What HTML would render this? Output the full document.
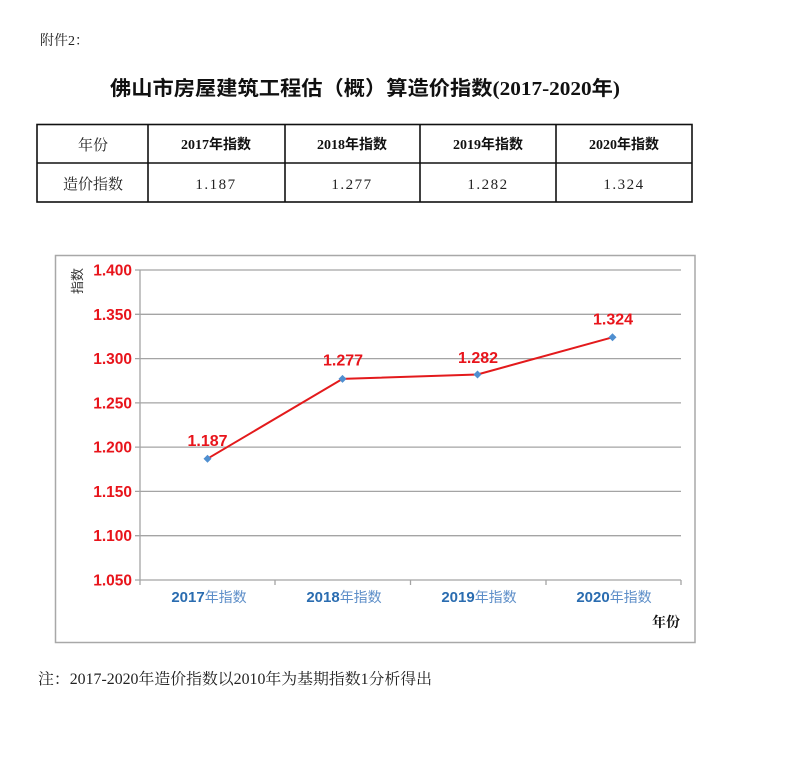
<!DOCTYPE html>
<html><head><meta charset="utf-8"><style>
html,body{margin:0;padding:0;background:#fff;}
svg{display:block;}
</style></head><body>
<svg width="800" height="764" viewBox="0 0 800 764" xmlns="http://www.w3.org/2000/svg">
<rect width="800" height="764" fill="#fff"/>
<text x="40" y="45" font-family="'Liberation Serif','Noto Serif CJK SC',serif" font-size="14" fill="#222">附件2<tspan font-family="'Noto Serif CJK SC',serif">：</tspan></text>
<text x="110" y="95" font-size="20" font-weight="bold" fill="#111" textLength="510" lengthAdjust="spacingAndGlyphs"><tspan font-family="'Noto Sans CJK SC',sans-serif">佛山市房屋建筑工程估（概）算造价指数</tspan><tspan font-family="'Liberation Serif',serif" font-weight="bold">(2017-2020</tspan><tspan font-family="'Noto Sans CJK SC',sans-serif">年</tspan><tspan font-family="'Liberation Serif',serif">)</tspan></text>

<!-- table -->
<g stroke="#111" stroke-width="1.6" fill="none">
<rect x="37" y="124.5" width="655" height="77.5"/>
<line x1="37" y1="163" x2="692" y2="163"/>
<line x1="148" y1="124.5" x2="148" y2="202"/>
<line x1="285" y1="124.5" x2="285" y2="202"/>
<line x1="420" y1="124.5" x2="420" y2="202"/>
<line x1="556" y1="124.5" x2="556" y2="202"/>
</g>
<g font-family="'Liberation Serif','Noto Serif CJK SC',serif" font-size="15" fill="#222" text-anchor="middle">
<text x="93" y="150">年份</text>
<text x="93" y="189">造价指数</text>
<text x="216" y="189" letter-spacing="1.5">1.187</text>
<text x="352" y="189" letter-spacing="1.5">1.277</text>
<text x="488" y="189" letter-spacing="1.5">1.282</text>
<text x="624" y="189" letter-spacing="1.5">1.324</text>
</g>
<g font-family="'Liberation Serif','Noto Sans CJK SC',sans-serif" font-size="14" font-weight="bold" fill="#111" text-anchor="middle">
<text x="216" y="149">2017年指数</text>
<text x="352" y="149">2018年指数</text>
<text x="488" y="149">2019年指数</text>
<text x="624" y="149">2020年指数</text>
</g>

<!-- chart box -->
<rect x="55.5" y="255.5" width="639.5" height="387" fill="#fff" stroke="#a8a8a8" stroke-width="1.5"/>

<!-- gridlines -->
<g stroke="#a4a4a4" stroke-width="1.3">
<line x1="135" y1="270" x2="681" y2="270"/>
<line x1="135" y1="314.3" x2="681" y2="314.3"/>
<line x1="135" y1="358.6" x2="681" y2="358.6"/>
<line x1="135" y1="402.9" x2="681" y2="402.9"/>
<line x1="135" y1="447.1" x2="681" y2="447.1"/>
<line x1="135" y1="491.4" x2="681" y2="491.4"/>
<line x1="135" y1="535.7" x2="681" y2="535.7"/>
<line x1="135" y1="580" x2="681" y2="580"/>
<line x1="140" y1="270" x2="140" y2="585"/>
<line x1="275" y1="580" x2="275" y2="585"/>
<line x1="410.5" y1="580" x2="410.5" y2="585"/>
<line x1="546" y1="580" x2="546" y2="585"/>
<line x1="681" y1="580" x2="681" y2="585"/>
</g>

<!-- y labels -->
<g font-family="'Liberation Sans',sans-serif" font-size="15.5" font-weight="bold" fill="#e8141b" text-anchor="end">
<text x="132" y="275.5">1.400</text>
<text x="132" y="319.8">1.350</text>
<text x="132" y="364.1">1.300</text>
<text x="132" y="408.4">1.250</text>
<text x="132" y="452.6">1.200</text>
<text x="132" y="496.9">1.150</text>
<text x="132" y="541.2">1.100</text>
<text x="132" y="585.5">1.050</text>
</g>
<text transform="translate(82,281) rotate(-90)" font-family="'Noto Sans CJK SC',sans-serif" font-size="13" fill="#333" text-anchor="middle">指数</text>

<!-- series -->
<polyline points="207.5,458.7 342.5,378.9 477.5,374.5 612.5,337.3" fill="none" stroke="#e31a1c" stroke-width="2"/>
<g fill="#4f8fd0">
<path d="M207.5,454.7 L211.5,458.7 L207.5,462.7 L203.5,458.7Z"/>
<path d="M342.5,374.9 L346.5,378.9 L342.5,382.9 L338.5,378.9Z"/>
<path d="M477.5,370.5 L481.5,374.5 L477.5,378.5 L473.5,374.5Z"/>
<path d="M612.5,333.3 L616.5,337.3 L612.5,341.3 L608.5,337.3Z"/>
</g>
<g font-family="'Liberation Sans',sans-serif" font-size="16" font-weight="bold" fill="#e8141b" text-anchor="middle">
<text x="207.5" y="446">1.187</text>
<text x="343" y="365.5">1.277</text>
<text x="478" y="363">1.282</text>
<text x="613" y="324.5">1.324</text>
</g>

<!-- category labels -->
<g font-size="14" text-anchor="middle">
<text x="209" y="602"><tspan font-family="'Liberation Sans',sans-serif" font-weight="bold" font-size="15" fill="#2a6cb0">2017</tspan><tspan font-family="'Noto Sans CJK SC',sans-serif" fill="#5d8ec8">年指数</tspan></text>
<text x="344" y="602"><tspan font-family="'Liberation Sans',sans-serif" font-weight="bold" font-size="15" fill="#2a6cb0">2018</tspan><tspan font-family="'Noto Sans CJK SC',sans-serif" fill="#5d8ec8">年指数</tspan></text>
<text x="479" y="602"><tspan font-family="'Liberation Sans',sans-serif" font-weight="bold" font-size="15" fill="#2a6cb0">2019</tspan><tspan font-family="'Noto Sans CJK SC',sans-serif" fill="#5d8ec8">年指数</tspan></text>
<text x="614" y="602"><tspan font-family="'Liberation Sans',sans-serif" font-weight="bold" font-size="15" fill="#2a6cb0">2020</tspan><tspan font-family="'Noto Sans CJK SC',sans-serif" fill="#5d8ec8">年指数</tspan></text>
</g>
<text x="666" y="627" font-family="'Noto Serif CJK SC',serif" font-size="14" font-weight="bold" fill="#111" text-anchor="middle">年份</text>

<text x="38" y="684" font-family="'Liberation Serif','Noto Serif CJK SC',serif" font-size="15.5" fill="#222" textLength="394" lengthAdjust="spacingAndGlyphs">注<tspan font-family="'Noto Serif CJK SC',serif">：</tspan>2017-2020年造价指数以2010年为基期指数1分析得出</text>
</svg>
</body></html>
